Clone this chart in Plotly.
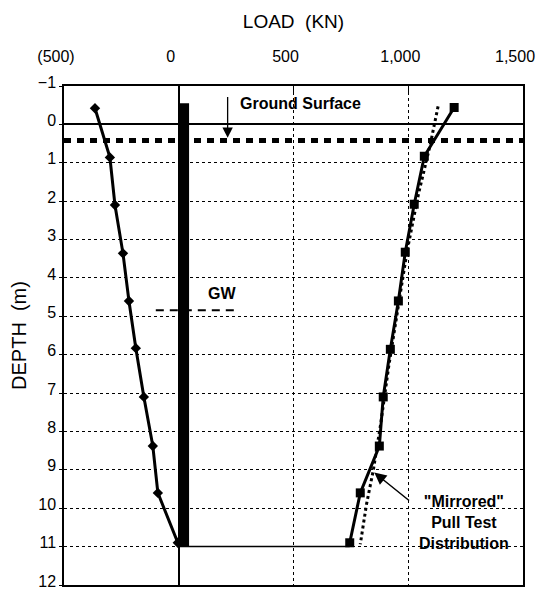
import plotly.graph_objects as go

# ---- data ----
x_ticks = [-500, 0, 500, 1000, 1500]
x_ticktext = ["(500)", "0", "500", "1,000", "1,500"]
y_ticks = list(range(-1, 13))

# left series (diamonds)
left_load = [-365, -300, -278, -243, -217, -187, -152, -113, -91, -4]
left_depth = [-0.42, 0.86, 2.1, 3.36, 4.6, 5.83, 7.1, 8.38, 9.6, 10.9]

# right series (squares)
right_load = [1200, 1070, 1026, 987, 957, 922, 891, 874, 791, 745]
right_depth = [-0.44, 0.83, 2.08, 3.33, 4.6, 5.86, 7.1, 8.38, 9.6, 10.9]

# "Mirrored" pull test distribution (dotted)
mirror_load = [1130, 1095, 1045, 995, 955, 915, 880, 848, 818, 791]
mirror_depth = [-0.47, 0.55, 1.8, 3.3, 4.8, 6.3, 7.8, 9.0, 9.9, 10.94]

# pile (solid bar)
pile_load = [0, 45, 45, 0, 0]
pile_depth = [-0.55, -0.55, 11, 11, -0.55]

# pile toe line
toe_load = [0, 745]
toe_depth = [11, 11]

# ground surface dashed line
gs_load = [-500, 1500]
gs_depth = [0.42, 0.42]

# ground water line
gw_load = [-100, 250]
gw_depth = [4.84, 4.84]

FONT = "Liberation Sans, Arial, sans-serif"

fig = go.Figure()

fig.add_trace(go.Scatter(x=pile_load, y=pile_depth, fill="toself", fillcolor="black",
                         mode="lines", line=dict(width=0, color="black"), showlegend=False))
fig.add_trace(go.Scatter(x=gs_load, y=gs_depth, mode="lines",
                         line=dict(color="black", width=5, dash="7px,6px"), showlegend=False))
fig.add_trace(go.Scatter(x=gw_load, y=gw_depth, mode="lines",
                         line=dict(color="black", width=2, dash="8px,6px"), showlegend=False))
fig.add_trace(go.Scatter(x=toe_load, y=toe_depth, mode="lines",
                         line=dict(color="black", width=1.5), showlegend=False))
fig.add_trace(go.Scatter(x=left_load, y=left_depth, mode="lines+markers",
                         line=dict(color="black", width=3),
                         marker=dict(symbol="diamond", size=8, color="black"), showlegend=False))
fig.add_trace(go.Scatter(x=mirror_load, y=mirror_depth, mode="lines",
                         line=dict(color="black", width=3, dash="dot"), showlegend=False))
fig.add_trace(go.Scatter(x=right_load, y=right_depth, mode="lines+markers",
                         line=dict(color="black", width=3),
                         marker=dict(symbol="square", size=9, color="black"), showlegend=False))

annotations = [
    dict(x=530, y=-0.55, text="<b>Ground Surface</b>", showarrow=False,
         font=dict(size=16, family=FONT, color="black")),
    dict(x=213, y=0.35, ax=213, ay=-0.75, axref="x", ayref="y", text="",
         showarrow=True, arrowhead=2, arrowsize=1.6, arrowwidth=1.3, arrowcolor="black"),
    dict(x=187, y=4.4, text="<b>GW</b>", showarrow=False,
         font=dict(size=16, family=FONT, color="black")),
    dict(x=852, y=9.07, ax=1010, ay=9.83, axref="x", ayref="y", text="",
         showarrow=True, arrowhead=2, arrowsize=1.6, arrowwidth=1.5, arrowcolor="black"),
    dict(x=1243, y=10.37, text="<b>\"Mirrored\"<br>Pull Test<br>Distribution</b>", showarrow=False,
         font=dict(size=16, family=FONT, color="black")),
]

# the page body adds an 8px offset, so the figure is sized 8px smaller
fig.update_layout(
    width=536, height=582,
    margin=dict(l=56, r=21, t=78, b=5),
    paper_bgcolor="white", plot_bgcolor="white",
    font=dict(family=FONT, color="black", size=16),
    annotations=annotations,
    xaxis=dict(
        side="top", range=[-500, 1500], tickvals=x_ticks, ticktext=x_ticktext,
        showgrid=True, gridcolor="black", griddash="dot", gridwidth=1,
        zeroline=True, zerolinecolor="black", zerolinewidth=1.5,
        showline=True, mirror=True, linecolor="black", linewidth=1.5,
        ticks="inside", ticklen=6, tickcolor="black",
        tickfont=dict(size=16), ticklabelstandoff=16, ticklabelshift=-8,
        automargin=False,
        title=dict(text="LOAD\u00a0 (KN)", font=dict(size=19), standoff=14),
    ),
    yaxis=dict(
        range=[12, -1], tickvals=y_ticks,
        showgrid=True, gridcolor="black", griddash="dot", gridwidth=1,
        zeroline=True, zerolinecolor="black", zerolinewidth=1.5,
        showline=True, mirror=True, linecolor="black", linewidth=1.5,
        ticks="outside", ticklen=3, tickcolor="black",
        tickfont=dict(size=16), automargin=False, ticklabeloverflow="allow",
        ticklabelshift=4,
        title=dict(text="DEPTH\u00a0 (m)", font=dict(size=20), standoff=12),
    ),
)

fig.write_html("out.html")
